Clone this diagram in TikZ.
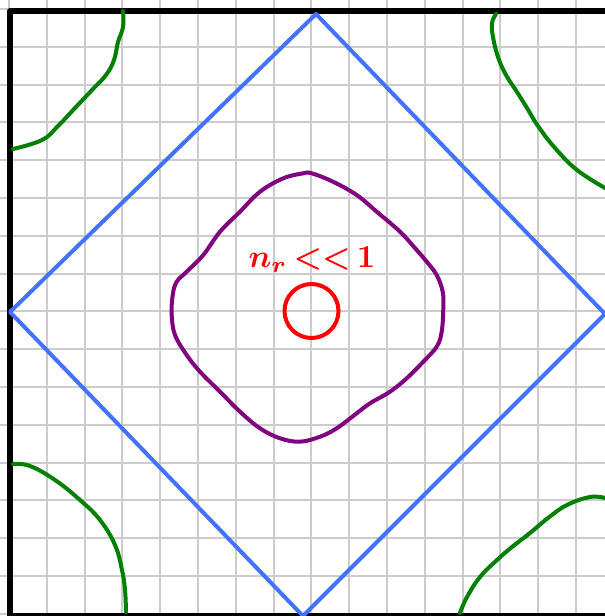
\documentclass[tikz,border=0pt]{standalone}
\usepackage{amsmath}
\usepackage{tikz}
\usetikzlibrary{calc}
\definecolor{gridgray}{HTML}{CCCCCC}
\definecolor{diamondblue}{HTML}{4372FF}
\definecolor{levelgreen}{HTML}{008000}
\definecolor{levelpurple}{HTML}{800080}
\definecolor{markred}{HTML}{FF0000}

\begin{document}
\begin{tikzpicture}[x=1pt,y=-1pt,line cap=round,line join=round]
\useasboundingbox (0,0) rectangle (605,616);
\begin{scope}
\clip (0,0) rectangle (605,616);
% grid
\foreach \k in {0,...,16}{
  \draw[gridgray,line width=2pt] ({9+37.8*\k},0) -- ({9+37.8*\k},616);
  \draw[gridgray,line width=2pt] (0,{9+37.8*\k}) -- (605,{9+37.8*\k});
}
% frame
\draw[black,line width=5.5pt,line cap=rect] (10,616) -- (10,11) -- (605,11);
\draw[black,line width=6pt] (10,616) -- (605,616);
% diamond
\coordinate (top) at (316,14);
\coordinate (left) at (10,312);
\coordinate (bottom) at (303,616);
\coordinate (right) at (605,314);
\draw[diamondblue,line width=4pt] (top) -- (right) -- (bottom) -- (left) -- cycle;
% corner curves
\draw[levelgreen,line width=4pt] plot[smooth,tension=0.7] coordinates
  {(123,11) (123,27) (118,42) (114,60) (106,75) (92,90) (75,108) (58,126) (42,140) (13,149)};
\draw[levelgreen,line width=4pt] plot[smooth,tension=0.7] coordinates
  {(496,14) (492,23) (493,37) (498,57) (506,75) (517,92) (527,108) (538,126) (555,148) (577,170) (605,188)};
\draw[levelgreen,line width=4pt] plot[smooth,tension=0.7] coordinates
  {(13,464) (30,466) (55,480) (80,500) (100,520) (115,545) (122,570) (125,590) (126,612)};
\draw[levelgreen,line width=4pt] plot[smooth,tension=0.7] coordinates
  {(460,613) (467,597) (480,577) (497,560) (512,547) (530,533) (548,518) (567,505) (590,497) (605,498)};
% inner contour
\draw[levelpurple,line width=4pt] plot[smooth cycle,tension=0.6] coordinates
  {(311.7,173.3) (333,181.7) (356.7,195) (376.7,211.7) (400,231.7) (416.7,250) (426.7,261.7) (436.7,275)
   (442.7,291.7) (443.3,308.3) (441.7,331.7) (436.7,346.7) (423.3,361.7) (406.7,378.3) (390,391.7) (370,403.3)
   (356.7,413.3) (336.7,428.3) (320,436.7) (300,441.7) (280,438.3) (260,428.3) (240,411.7) (220,391.7)
   (200,371.7) (186.7,355) (175,335) (171.7,315) (172.7,295) (176.7,281.7) (186.7,271.7) (203.3,255)
   (220,231.7) (240,211.7) (260,191.7) (283.3,178.3) (303.3,173.3)};
% centre mark
\node[draw=markred,line width=4pt,circle,minimum size=54pt,inner sep=0pt] (core) at (311.5,311) {};
\node[text=markred,scale=3.2,transform shape,inner sep=0pt] (label) at (312,260) {$\boldsymbol{n_r\,{<}{<}\,1}$};
\end{scope}
\end{tikzpicture}
\end{document}
